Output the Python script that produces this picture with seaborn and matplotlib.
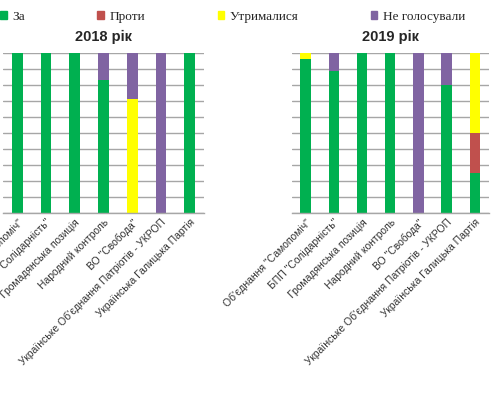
import seaborn as sns
import pandas as pd
import numpy as np
from matplotlib import pyplot as plt
from matplotlib.patches import Patch

parties = ["Об'єднання \"Самопоміч\"", "БПП \"Солідарність\"", "Громадянська позиція",
           "Народний контроль", "ВО \"Свобода\"",
           "Українське Об'єднання Патріотів - УКРОП", "Українська Галицька Партія"]

series = ["За", "Проти", "Утрималися", "Не голосували"]
colors = ["#00B050", "#C0504D", "#FFFF00", "#8064A2"]

# percent of faction votes, 2018
za_2018 = [100, 100, 100, 83, 0, 0, 100]
proty_2018 = [0, 0, 0, 0, 0, 0, 0]
utr_2018 = [0, 0, 0, 0, 71, 0, 0]
ne_2018 = [0, 0, 0, 17, 29, 100, 0]

# percent of faction votes, 2019
za_2019 = [96, 89, 100, 100, 0, 80, 25]
proty_2019 = [0, 0, 0, 0, 0, 0, 25]
utr_2019 = [4, 0, 0, 0, 0, 0, 50]
ne_2019 = [0, 11, 0, 0, 100, 20, 0]

sns.set_style("white")
plt.rcParams['font.family'] = ['Liberation Sans', 'DejaVu Sans']

def draw_panel(ax, values, title):
    df = pd.DataFrame(dict(zip(series, values)), index=parties)
    cum = df.cumsum(axis=1)
    # draw cumulative totals from top series down so lower ones overlay
    for name, col in zip(series[::-1], colors[::-1]):
        sns.barplot(x=parties, y=cum[name].values / 100, color=col, width=0.37,
                    linewidth=0, saturation=1, ax=ax)
    ax.set_ylim(0, 1)
    ax.set_xlim(-0.5, len(parties) - 0.5)
    ax.set_yticks(np.arange(0, 1.01, 0.1))
    ax.set_yticklabels([])
    ax.tick_params(axis='y', length=0)
    ax.yaxis.grid(True, color='#A6A6A6', linewidth=1)
    ax.set_axisbelow(True)
    for s in ['left', 'right', 'top']:
        ax.spines[s].set_visible(False)
    ax.spines['bottom'].set_color('#A6A6A6')
    ax.spines['bottom'].set_linewidth(1)
    ax.set_xticks(np.arange(-0.5, len(parties), 1), minor=True)
    ax.tick_params(axis='x', which='minor', length=4, color='#A6A6A6', width=1, direction='out')
    ax.tick_params(axis='x', which='major', length=0, pad=3)
    ax.set_xticks(range(len(parties)))
    ax.set_xticklabels(parties, rotation=45, ha='right', rotation_mode='anchor',
                       fontsize=7.5, color='#333333')
    ax.set_xlabel("")
    ax.set_ylabel("")
    ax.set_title(title, fontsize=10.5, fontweight='bold', pad=9)

fig = plt.figure(figsize=(5, 4), dpi=100)
ax1 = fig.add_axes([0.006, 0.4675, 0.402, 0.4])
ax2 = fig.add_axes([0.583, 0.4675, 0.395, 0.4])

draw_panel(ax1, [za_2018, proty_2018, utr_2018, ne_2018], "2018 рік")
draw_panel(ax2, [za_2019, proty_2019, utr_2019, ne_2019], "2019 рік")

handles = [Patch(color=c, label=s) for s, c in zip(series, colors)]
fig.legend(handles=handles, loc='lower left', bbox_to_anchor=(0.0, 0.943, 0.93, 0.05),
           mode='expand', ncol=4, frameon=False, handlelength=0.5, handleheight=0.5,
           handletextpad=0.4, borderaxespad=0, borderpad=0,
           prop={'family': 'Liberation Serif', 'size': 9.5})

fig.savefig("out.png", dpi=100)
